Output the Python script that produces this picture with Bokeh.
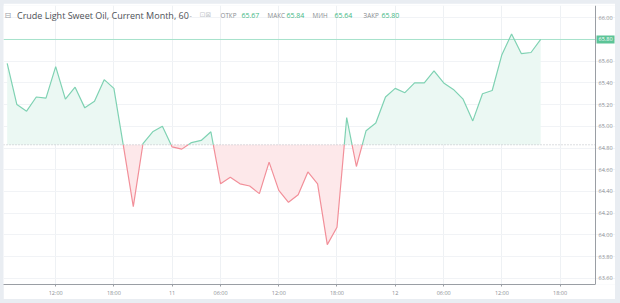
import numpy as np
from bokeh.plotting import figure
from bokeh.models import Range1d, FixedTicker, Label, Span, NumeralTickFormatter
from bokeh.layouts import column
from bokeh.embed import file_html
from bokeh.resources import INLINE

# ---- data -------------------------------------------------------------
prices = [65.58, 65.20, 65.14, 65.27, 65.26, 65.55, 65.25, 65.36, 65.17, 65.23,
          65.43, 65.35, 64.81, 64.26, 64.84, 64.95, 65.00, 64.81, 64.79, 64.85,
          64.87, 64.95, 64.47, 64.53, 64.47, 64.45, 64.38, 64.67, 64.41, 64.30,
          64.37, 64.58, 64.47, 63.91, 64.07, 65.08, 64.63, 64.96, 65.03, 65.27,
          65.35, 65.31, 65.40, 65.40, 65.51, 65.40, 65.34, 65.25, 65.05, 65.30,
          65.33, 65.66, 65.85, 65.67, 65.68, 65.80]
baseline = 64.83
last_price = 65.80
x_tick_pos = [5, 11, 17, 22, 28, 34, 40, 45, 51, 57]
x_tick_labels = ["12:00", "18:00", "11", "06:00", "12:00", "18:00", "12", "06:00", "12:00", "18:00"]
y_ticks = [63.6, 63.8, 64.0, 64.2, 64.4, 64.6, 64.8, 65.0, 65.2, 65.4, 65.6, 65.8, 66.0]
title_text = "Crude Light Sweet Oil, Current Month, 60"
ohlc_names = ["ОТКР", "МАКС", "МИН", "ЗАКР"]
ohlc_values = ["65.67", "65.84", "65.64", "65.80"]

# ---- geometry ----------------------------------------------------------
FRAME_L, FRAME_T, FRAME_W, FRAME_H = 3, 5, 612, 284  # page pixels
X_LO = -0.38
X_PER_PX = 61.03 / 592.0
X_HI = X_LO + FRAME_W * X_PER_PX
Y_LO, Y_HI = 63.543, 66.113


def px2x(px):
    return X_LO + (px - FRAME_L) * X_PER_PX


def px2y(py):
    return Y_HI - (py - FRAME_T) / FRAME_H * (Y_HI - Y_LO)


AXIS_X = px2x(595)

GREEN_LINE = "#7fd2b3"
GREEN_FILL = "#ebf8f3"
RED_LINE = "#f28f99"
RED_FILL = "#fde8ea"
GREEN_TXT = "#45b886"
AXIS_COL = "#9a9ea4"

# split the series at baseline crossings
xs = []
ys = []
for i, v in enumerate(prices):
    if i > 0:
        v0 = prices[i - 1]
        if (v0 - baseline) * (v - baseline) < 0:
            t = (baseline - v0) / (v - v0)
            xs.append(i - 1 + t)
            ys.append(baseline)
    xs.append(i)
    ys.append(v)
xs = np.array(xs, dtype=float)
ys = np.array(ys, dtype=float)
green_y = np.where(ys >= baseline, ys, np.nan)
red_y = np.where(ys <= baseline, ys, np.nan)

p = figure(width=612, height=296, output_backend="svg", toolbar_location=None,
           x_range=Range1d(X_LO, X_HI), y_range=Range1d(Y_LO, Y_HI),
           y_axis_location="right",
           min_border_left=0, min_border_right=0, min_border_top=2, min_border_bottom=10,
           margin=(3, 5, 4, 3))
p.outline_line_color = None
p.background_fill_color = "white"
p.border_fill_color = "white"

# grid
p.xgrid.ticker = FixedTicker(ticks=x_tick_pos)
p.ygrid.ticker = FixedTicker(ticks=y_ticks)
p.xgrid.grid_line_color = "#eef1f4"
p.ygrid.grid_line_color = "#f1f3f6"

# fills
p.varea(x=xs, y1=np.full_like(ys, baseline), y2=np.maximum(ys, baseline), fill_color=GREEN_FILL)
p.varea(x=xs, y1=np.minimum(ys, baseline), y2=np.full_like(ys, baseline), fill_color=RED_FILL)

# last price line and baseline (dotted), ending at the price axis
p.line(x=[X_LO, AXIS_X], y=[last_price, last_price], line_color="#a6e2cb", line_width=1)
p.line(x=[X_LO, AXIS_X], y=[baseline, baseline],
       line_color="#b8bcc2", line_width=1, line_dash="1 2")

# lines
p.line(xs, green_y, line_color=GREEN_LINE, line_width=1.2)
p.line(xs, red_y, line_color=RED_LINE, line_width=1.2)

# price axis line
p.add_layout(Span(location=AXIS_X, dimension="height", line_color=AXIS_COL, line_width=1))

# axes
for ax in (p.xaxis[0], p.yaxis[0]):
    ax.axis_line_color = AXIS_COL
    ax.major_tick_line_color = AXIS_COL
    ax.minor_tick_line_color = None
    ax.major_tick_in = 0
    ax.major_tick_out = 2
    ax.major_label_text_color = "#8a8d92"
    ax.major_label_text_font = "Open Sans"
    ax.major_label_text_font_size = "5.5px"
    ax.major_label_standoff = 2

p.xaxis.ticker = FixedTicker(ticks=x_tick_pos)
p.xaxis.major_label_overrides = {t: l for t, l in zip(x_tick_pos, x_tick_labels)}
p.xaxis.bounds = (X_LO, AXIS_X)
p.yaxis.ticker = FixedTicker(ticks=y_ticks)
p.yaxis.formatter = NumeralTickFormatter(format="0.00")
p.yaxis.axis_line_color = None
p.yaxis.major_tick_line_color = None
p.yaxis.major_tick_out = 0
p.yaxis.major_label_standoff = -17

# last price badge on the axis
p.add_layout(Label(x=px2x(596), y=last_price, text="65.80",
                   text_baseline="middle", text_align="left", text_color="white",
                   text_font="Open Sans", text_font_size="5.5px",
                   background_fill_color="#5cc497", border_line_color=None, padding=2))

# header
HY = px2y(15)
p.add_layout(Label(x=px2x(4), y=HY, text="⊟", text_baseline="middle", text_color="#9aa0a6",
                   text_font="DejaVu Sans", text_font_size="8px"))
p.add_layout(Label(x=px2x(16.5), y=HY, text=title_text, text_baseline="middle",
                   text_color="#4e5257", text_font="Open Sans", text_font_size="9px"))
p.add_layout(Label(x=px2x(189), y=HY, text="-", text_baseline="middle",
                   text_color="#9aa0a6", text_font="Open Sans", text_font_size="7px"))
p.add_layout(Label(x=px2x(199), y=HY, text="⊡⊠", text_baseline="middle",
                   text_color="#c3c7cc", text_font="DejaVu Sans", text_font_size="7px"))
name_px = [220, 267, 312, 363]
val_px = [241, 286, 334, 381]
for nm, vl, nx, vx in zip(ohlc_names, ohlc_values, name_px, val_px):
    p.add_layout(Label(x=px2x(nx), y=HY, text=nm, text_baseline="middle",
                       text_color="#8a8d92", text_font="Open Sans", text_font_size="6.3px"))
    p.add_layout(Label(x=px2x(vx), y=HY, text=vl, text_baseline="middle",
                       text_color=GREEN_TXT, text_font="Open Sans", text_font_size="7px"))

lay = column(p, styles={"background-color": "#e9edf2"})
open("out.html", "w").write(file_html(lay, INLINE))
